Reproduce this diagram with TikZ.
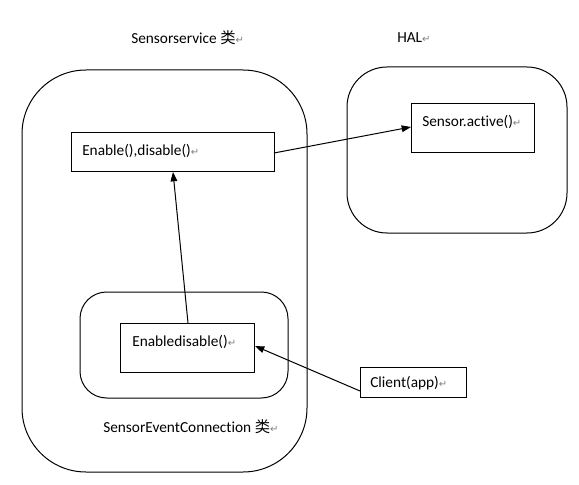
\documentclass[tikz,border=0pt]{standalone}
\usepackage{fontspec}
\setmainfont[Ligatures=NoCommon]{Carlito}
\newfontfamily\cjk{Noto Sans CJK SC}
\newfontfamily\symf{DejaVu Sans}
\usetikzlibrary{arrows.meta}
\newcommand{\pmark}{{\symf\fontsize{7.5}{8}\selectfont\textcolor{gray}{↵}}}
\begin{document}
\begin{tikzpicture}[x=0.75pt,y=-0.75pt,
  box/.style={draw=black,line width=0.75pt},
  lbl/.style={anchor=west,inner sep=0pt,font=\fontsize{11.5}{13}\selectfont},
  arr/.style={-{Triangle[length=7pt,width=5pt]},line width=0.75pt}]
\useasboundingbox (0,0) rectangle (579,485);
% containers
\draw[box,rounded corners=48] (22,70) rectangle (307,472);
\draw[box,rounded corners=30] (347,67) rectangle (567,233);
\draw[box,rounded corners=20] (80,292) rectangle (288,398);
% boxes
\node[box,minimum width=203*0.75pt,minimum height=39*0.75pt,inner sep=0pt] (en) at (172.5,152.5) {};
\node[box,minimum width=123*0.75pt,minimum height=49*0.75pt,inner sep=0pt] (sa) at (472.5,128.5) {};
\node[box,minimum width=134*0.75pt,minimum height=49*0.75pt,inner sep=0pt] (ed) at (187,347.5) {};
\node[box,minimum width=106*0.75pt,minimum height=30*0.75pt,inner sep=0pt] (cl) at (413,382) {};
% labels
\node[lbl] (t1) at (131,38) {Sensorservice {\cjk 类}\pmark};
\node[lbl] (t2) at (397,38) {HAL\pmark};
\node[lbl] (t3) at (82,151) {Enable(),disable()\pmark};
\node[lbl] (t4) at (422,122) {Sensor.active()\pmark};
\node[lbl] (t5) at (132,342) {Enabledisable()\pmark};
\node[lbl] (t6) at (370,383) {Client(app)\pmark};
\node[lbl] (t7) at (103,427) {SensorEventConnection {\cjk 类}\pmark};
% connectors
\coordinate (a1) at (274,153);
\coordinate (a2) at (411,127);
\draw[arr] (a1) -- (a2);
\coordinate (b1) at (188,323);
\coordinate (b2) at (173,172);
\draw[arr] (b1) -- (b2);
\coordinate (c1) at (360,391);
\coordinate (c2) at (255,346);
\draw[arr] (c1) -- (c2);
\end{tikzpicture}
\end{document}
